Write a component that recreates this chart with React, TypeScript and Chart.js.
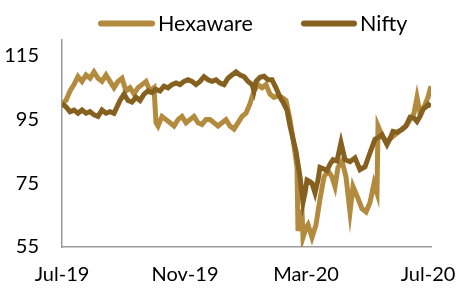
import React, { useEffect, useRef } from "react";
import { Chart, registerables } from "chart.js";

Chart.register(...registerables);

const seriesNames = ["Hexaware", "Nifty"];
const seriesColors = ["#B38B3E", "#86601F"];

// x = days since 1 Jul 2019
const hexDays = [0, 4, 8, 12, 16, 20, 24, 28, 32, 36, 40, 44, 48, 52, 56, 60, 64, 68, 72, 76, 80, 84, 88, 92, 94, 96, 100, 104, 108, 112, 116, 120, 124, 128, 132, 136, 140, 144, 148, 152, 156, 160, 164, 168, 172, 176, 180, 184, 188, 192, 196, 200, 204, 208, 212, 216, 220, 224, 228, 232, 235, 236, 238, 240, 241, 244, 246, 248, 250, 252, 254, 258, 262, 266, 270, 273, 276, 280, 284, 288, 291, 295, 300, 304, 308, 312, 315, 316, 320, 324, 328, 332, 336, 340, 344, 348, 352, 355, 358, 362, 366, 369];
const hexValues = [100, 101, 104, 106, 108.5, 107, 109, 108, 110, 108, 107, 109, 107, 105, 107, 108, 104, 105, 103, 105, 106, 107, 104, 105, 94, 93, 96, 95, 94, 93, 95, 96, 94, 95, 96, 94, 93.5, 95, 95, 94, 93, 94, 95, 93, 92, 94, 96, 97, 100, 104, 106, 105, 106, 103, 102, 102.5, 102, 101, 95, 87, 80, 60, 65, 66, 58, 61, 62, 60, 58, 60, 62, 70, 77, 79, 77, 74, 80, 82, 77, 66, 74, 71, 67, 66, 69, 75, 72, 93, 90, 88, 89, 90, 91, 92, 93, 95, 97, 102, 97, 99, 102, 105.5];

const niftyDays = [0, 4, 8, 12, 16, 20, 24, 28, 32, 36, 40, 44, 48, 52, 55, 58, 62, 66, 70, 74, 78, 82, 86, 90, 94, 98, 102, 106, 110, 114, 118, 122, 126, 130, 134, 138, 142, 146, 150, 154, 158, 162, 166, 170, 174, 178, 182, 186, 190, 192, 194, 198, 202, 206, 210, 214, 218, 221, 225, 228, 231, 234, 238, 241, 243, 245, 248, 250, 253, 256, 258, 262, 265, 268, 271, 275, 279, 283, 288, 293, 298, 303, 308, 313, 317, 320, 325, 328, 331, 335, 340, 344, 348, 352, 355, 358, 361, 364, 366, 369];
const niftyValues = [100, 99, 97.5, 98, 97, 98, 97, 97.5, 96.5, 96, 98, 97, 97.5, 97, 99, 101, 103, 101, 100.5, 102, 101, 103, 104, 103.5, 104.5, 104, 105.5, 105, 106, 106.5, 106, 107, 107.5, 107, 106, 107, 108.5, 107.5, 107, 107.5, 106.5, 106, 108, 109, 110, 109, 108.5, 107, 106, 104, 107, 108.3, 108.6, 107.5, 107.5, 105, 102, 100.5, 98, 93, 89, 85, 77, 69, 72, 76, 75.5, 75, 72, 76, 80, 79.5, 79, 81, 82.4, 82, 87.8, 82.4, 81.8, 83, 79.3, 80.2, 84.6, 88.8, 89.5, 90.3, 87.2, 89, 91.3, 91, 91.9, 93, 95.7, 95.5, 94.4, 96, 98.2, 99, 99.8, 99.2];

const xTickDays = [0, 123, 244, 366];
const xTickLabels = ["Jul-19", "Nov-19", "Mar-20", "Jul-20"];
const yTicks = [55, 75, 95, 115];

const FONT = "Lato, 'Open Sans', sans-serif";

const legendPlugin = {
  id: "customLegend",
  afterDraw(chart: any) {
    const ctx = chart.ctx;
    const items = [
      { x1: 98, x2: 155, tx: 158 },
      { x1: 301, x2: 357, tx: 360 },
    ];
    const y = 23.5;
    ctx.save();
    ctx.font = `21.5px ${FONT}`;
    ctx.textBaseline = "middle";
    ctx.textAlign = "left";
    items.forEach((it, i) => {
      ctx.strokeStyle = seriesColors[i];
      ctx.lineWidth = 6;
      ctx.lineCap = "round";
      ctx.beginPath();
      ctx.moveTo(it.x1 + 3, y);
      ctx.lineTo(it.x2 - 3, y);
      ctx.stroke();
      ctx.fillStyle = "#000";
      ctx.fillText(seriesNames[i], it.tx, y + 1);
    });
    ctx.restore();
  },
};

export default function App() {
  const ref = useRef<HTMLCanvasElement>(null);
  useEffect(() => {
    if (!ref.current) return;
    const toPts = (d: number[], v: number[]) => d.map((x, i) => ({ x, y: v[i] }));
    const chart = new Chart(ref.current, {
      type: "line",
      data: {
        datasets: [
          {
            label: seriesNames[0],
            data: toPts(hexDays, hexValues),
            borderColor: seriesColors[0],
            backgroundColor: seriesColors[0],
            borderWidth: 5,
            pointRadius: 0,
            tension: 0,
            order: 2,
          },
          {
            label: seriesNames[1],
            data: toPts(niftyDays, niftyValues),
            borderColor: seriesColors[1],
            backgroundColor: seriesColors[1],
            borderWidth: 5,
            pointRadius: 0,
            tension: 0,
            order: 1,
          },
        ],
      },
      options: {
        animation: false,
        responsive: false,
        layout: { padding: { top: 40, right: 29, left: 0, bottom: 0 } },
        plugins: { legend: { display: false }, tooltip: { enabled: false } },
        scales: {
          x: {
            type: "linear",
            min: 0,
            max: 369,
            grid: { display: false, drawTicks: false },
            border: { display: true, color: "#9a9a9a", width: 1.5 },
            afterBuildTicks: (s: any) => {
              s.ticks = xTickDays.map((v) => ({ value: v }));
            },
            ticks: {
              autoSkip: false,
              maxRotation: 0,
              padding: 16,
              color: "#000",
              font: { family: FONT, size: 20 },
              callback: (v: any) => {
                const i = xTickDays.indexOf(Number(v));
                return i >= 0 ? xTickLabels[i] : "";
              },
            },
            afterFit: (s: any) => {
              s.height = 41;
              s.paddingLeft = 0;
              s.paddingRight = 0;
            },
          },
          y: {
            min: 55,
            max: 120,
            grid: { display: false, drawTicks: false },
            border: { display: true, color: "#9a9a9a", width: 1.5 },
            afterBuildTicks: (s: any) => {
              s.ticks = yTicks.map((v) => ({ value: v }));
            },
            ticks: {
              padding: 23,
              color: "#000",
              font: { family: FONT, size: 20 },
            },
            afterFit: (s: any) => {
              s.width = 62;
              s.paddingTop = 0;
              s.paddingBottom = 0;
            },
          },
        },
      },
      plugins: [legendPlugin],
    });
    return () => chart.destroy();
  }, []);
  return (
    <canvas
      ref={ref}
      width={460}
      height={288}
      style={{ position: "fixed", left: 0, top: 0, display: "block", width: 460, height: 288 }}
    />
  );
}
